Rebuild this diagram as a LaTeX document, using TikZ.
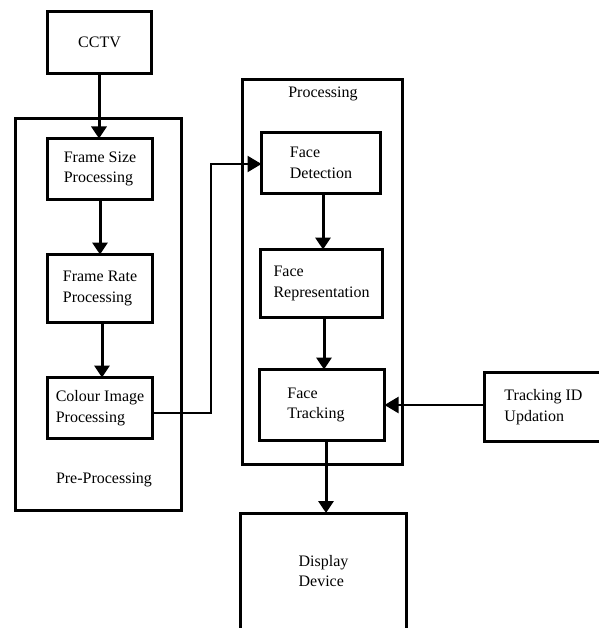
\documentclass[tikz,border=0pt]{standalone}
\usepackage{fontspec}
\setmainfont{Liberation Serif}
\usetikzlibrary{arrows.meta,calc}
\begin{document}
\begin{tikzpicture}[x=1pt,y=-1pt,
  box/.style={draw, line width=3pt, inner sep=0pt, outer sep=0pt, align=left,
    font=\fontsize{16}{20.5}\selectfont},
  frame/.style={draw, line width=3pt, inner sep=0pt, outer sep=0pt},
  lbl/.style={inner sep=0pt, font=\fontsize{16}{20.5}\selectfont},
  arr/.style={line width=3pt, -{Triangle[length=12pt,width=15pt]}},
  thinarr/.style={line width=2.2pt, -{Triangle[length=14pt,width=16pt]}},
  thinline/.style={line width=2.2pt}]
\useasboundingbox (0,0) rectangle (598,628);
\fill[white] (0,0) rectangle (598,628);
% outer frames
\node[frame, minimum width=166pt, minimum height=392pt] (pre) at (98.5,314.5) {};
\node[frame, minimum width=160pt, minimum height=385pt] (proc) at (322.5,272) {};
\node[lbl] (prelbl) at (104,480) {Pre-Processing};
\node[lbl] (proclbl) at (323,94) {Processing};
% boxes
\node[box, minimum width=104pt, minimum height=62pt] (cctv) at (99.5,42.5) {CCTV};
\node[box, minimum width=105pt, minimum height=61pt] (fs) at (100,169) {Frame Size\\Processing};
\node[box, minimum width=105pt, minimum height=68pt] (fr) at (100,288.5) {Frame Rate\\Processing};
\node[box, minimum width=105pt, minimum height=61pt] (ci) at (100,408) {Colour Image\\Processing};
\node[box, minimum width=119pt, minimum height=61pt] (fd) at (321,163) {Face\\Detection};
\node[box, minimum width=122pt, minimum height=68pt] (frep) at (321.5,283.5) {Face\\Representation};
\node[box, minimum width=125pt, minimum height=71pt] (ft) at (322,405) {Face\\Tracking\hspace*{12pt}};
\node[box, minimum width=118pt, minimum height=69pt] (tid) at (543.5,407) {Tracking ID\\Updation};
\node[box, minimum width=166pt, minimum height=116pt] (dd) at (323.5,571) {Display\\Device};
% connector points
\coordinate (a1) at (99,0);
\coordinate (a2) at (100,0);
\coordinate (a3) at (102,0);
\coordinate (a4) at (323,0);
\coordinate (a5) at (324,0);
\coordinate (a6) at (326,0);
\coordinate (bend) at (211,413);
\coordinate (fdin) at (0,164);
\coordinate (tline) at (0,405);
% connectors
\draw[arr] (a1 |- cctv.south) -- (a1 |- fs.north);
\draw[arr] (a2 |- fs.south) -- (a2 |- fr.north);
\draw[arr] (a3 |- fr.south) -- (a3 |- ci.north);
\draw[arr] (a4 |- fd.south) -- (a4 |- frep.north);
\draw[arr] (a5 |- frep.south) -- (a5 |- ft.north);
\draw[arr] (a6 |- ft.south) -- (a6 |- dd.north);
\draw[thinarr] (ci.east |- bend) -- (bend) |- (fd.west |- fdin);
\draw[thinarr] (tid.west |- tline) -- (ft.east |- tline);
\end{tikzpicture}
\end{document}
